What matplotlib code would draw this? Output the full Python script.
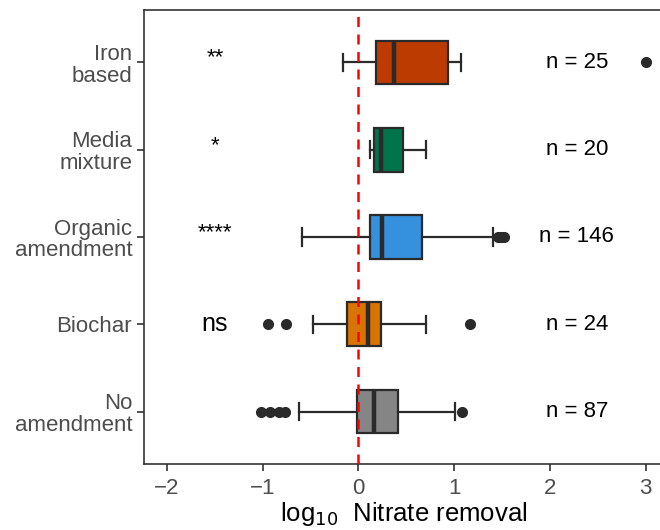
import matplotlib
matplotlib.use("Agg")
import matplotlib.pyplot as plt

categories = ["No\namendment", "Biochar", "Organic\namendment", "Media\nmixture", "Iron\nbased"]
q1 = [-0.02, -0.12, 0.12, 0.16, 0.18]
med = [0.16, 0.10, 0.25, 0.24, 0.37]
q3 = [0.41, 0.24, 0.665, 0.46, 0.93]
whislo = [-0.62, -0.475, -0.59, 0.12, -0.16]
whishi = [1.005, 0.705, 1.405, 0.705, 1.07]
fliers = [[-1.02, -0.92, -0.83, -0.77, 1.085], [-0.95, -0.76, 1.16], [1.46, 1.49, 1.52], [], [3.0]]
colors = ["#858585", "#D97400", "#3590DD", "#00744A", "#BB3B00"]
signif = ["", "ns", "****", "*", "**"]
counts = [87, 24, 146, 20, 25]
xticks = [-2, -1, 0, 1, 2, 3]

plt.rcParams['font.family'] = ['Liberation Sans', 'DejaVu Sans']
fig = plt.figure(figsize=(6.6, 5.3), dpi=100)
ax = fig.add_axes([144/660, 66/530, (663-144)/660, (464-10)/530])

stats = []
for i in range(len(categories)):
    stats.append(dict(q1=q1[i], med=med[i], q3=q3[i], whislo=whislo[i],
                      whishi=whishi[i], fliers=fliers[i], label=categories[i]))
pos = list(range(1, len(categories) + 1))
edge = "#2a2a2a"
bp = ax.bxp(stats, positions=pos, widths=0.5, vert=False, patch_artist=True,
            capwidths=0.2,
            boxprops=dict(edgecolor=edge, linewidth=1.6),
            whiskerprops=dict(color=edge, linewidth=1.6),
            capprops=dict(color=edge, linewidth=1.6),
            medianprops=dict(color=edge, linewidth=3.2),
            flierprops=dict(marker='o', markerfacecolor=edge, markeredgecolor=edge,
                            markersize=7, linestyle='none'),
            zorder=3)
for patch, c in zip(bp['boxes'], colors):
    patch.set_facecolor(c)

ax.axvline(0, color="#ff0000", linestyle=(0, (4, 3)), linewidth=1.8, zorder=4)

for i in range(len(categories)):
    if signif[i]:
        if signif[i] == "ns":
            ax.text(-1.5, pos[i], signif[i], ha='center', va='center', fontsize=18, color='black')
        else:
            ax.text(-1.5, pos[i] + 0.05, signif[i], ha='center', va='center', fontsize=16, color='black')
    ax.text(2.28, pos[i], f"n = {counts[i]}", ha='center', va='center', fontsize=16, color='black')

ax.set_xlim(-2.24, 3.18)
ax.set_ylim(0.4, 5.6)
ax.set_xticks(xticks)
ax.set_xticklabels([f"\u2212{abs(t)}" if t < 0 else str(t) for t in xticks])
ax.set_yticks(pos)
ax.set_yticklabels(categories, linespacing=1.05)
ax.tick_params(axis='both', labelsize=16, labelcolor="#4d4d4d", color="#333333",
               length=5, width=1.2)
ax.tick_params(axis='x', pad=5)
for s in ax.spines.values():
    s.set_color("#333333")
    s.set_linewidth(1.2)
ax.set_xlabel(r"log$_{10}$  Nitrate removal", fontsize=18.5, labelpad=1)

fig.savefig("out.png", dpi=100)
